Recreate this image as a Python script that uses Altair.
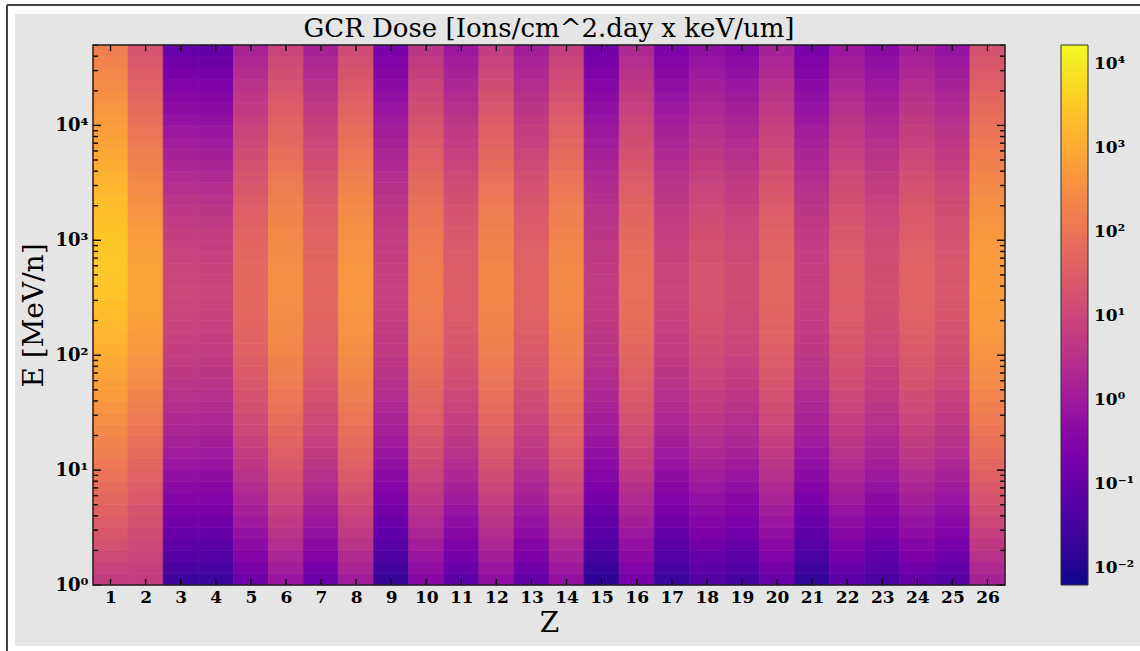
import altair as alt
import pandas as pd

# ---------------- data ----------------
Z_VALUES = list(range(1, 27))
N_ROWS = 47            # energy bins, 0.1 decade each, 1 .. 10^4.7 MeV/n

# log10 of the dose at the peak of each Z column
PEAK_LOG = [3.49, 2.90, 1.00, 0.95, 1.75, 2.50, 1.72, 2.65, 0.88, 2.17,
            1.50, 2.36, 1.62, 2.40, 0.75, 1.88, 0.95, 1.30, 1.12, 1.70,
            0.85, 1.50, 1.18, 1.62, 1.38, 2.78]

# log10 offset from the peak, one value per energy row (bottom -> top)
PROFILE_H = [-2.72, -2.56, -2.40, -2.26, -2.12, -1.99, -1.87, -1.75, -1.64, -1.53,
             -1.42, -1.31, -1.20, -1.09, -0.98, -0.88, -0.77, -0.67, -0.58, -0.49,
             -0.40, -0.32, -0.25, -0.19, -0.13, -0.08, -0.04, 0.00, -0.01, -0.03,
             -0.06, -0.10, -0.15, -0.21, -0.28, -0.36, -0.44, -0.52, -0.61, -0.70,
             -0.78, -0.87, -0.95, -1.03, -1.11, -1.19, -1.28]
PROFILE_HE = [-2.11, -2.03, -1.95, -1.86, -1.77, -1.67, -1.58, -1.48, -1.39, -1.30,
              -1.20, -1.10, -1.00, -0.90, -0.80, -0.70, -0.60, -0.50, -0.41, -0.32,
              -0.24, -0.16, -0.10, -0.05, -0.02, 0.00, -0.01, -0.03, -0.06, -0.10,
              -0.16, -0.23, -0.30, -0.38, -0.46, -0.54, -0.63, -0.72, -0.81, -0.90,
              -1.00, -1.10, -1.20, -1.30, -1.40, -1.50, -1.60]
PROFILE_LIBE = [-2.61, -2.43, -2.25, -2.09, -1.93, -1.78, -1.64, -1.50, -1.36, -1.22,
                -1.09, -0.97, -0.85, -0.75, -0.65, -0.56, -0.47, -0.38, -0.31, -0.23,
                -0.17, -0.12, -0.07, -0.04, -0.01, 0.00, -0.01, -0.03, -0.07, -0.12,
                -0.18, -0.25, -0.33, -0.42, -0.52, -0.62, -0.73, -0.84, -0.95, -1.06,
                -1.18, -1.30, -1.42, -1.55, -1.68, -1.81, -1.95]
PROFILE_HEAVY = [-2.61, -2.43, -2.25, -2.09, -1.93, -1.78, -1.64, -1.50, -1.36, -1.22,
                 -1.09, -0.97, -0.85, -0.75, -0.65, -0.56, -0.47, -0.38, -0.31, -0.23,
                 -0.17, -0.12, -0.07, -0.04, -0.01, 0.00, 0.00, -0.01, -0.04, -0.07,
                 -0.11, -0.16, -0.22, -0.29, -0.36, -0.44, -0.53, -0.62, -0.71, -0.80,
                 -0.90, -1.00, -1.10, -1.21, -1.32, -1.43, -1.55]

Y_MAJOR = [1, 10, 100, 1000, 10000]
Y_MINOR = [k * 10 ** e for e in range(5) for k in range(2, 10) if k * 10 ** e <= 50000]
CBAR_VALUES = [0.01, 0.1, 1, 10, 100, 1000, 10000]
COLOR_DOMAIN = [0.0063, 16800]
E_DOMAIN = [1, 10 ** 4.7]

# ---------------- table ----------------
rows = []
for zi, z in enumerate(Z_VALUES):
    if z == 1:
        prof = PROFILE_H
    elif z == 2:
        prof = PROFILE_HE
    elif z in (3, 4):
        prof = PROFILE_LIBE
    else:
        prof = PROFILE_HEAVY
    for i in range(N_ROWS):
        rows.append({"Z": z, "z0": z - 0.5, "z1": z + 0.5,
                     "e0": 10 ** (i / 10), "e1": 10 ** ((i + 1) / 10),
                     "dose": 10 ** (PEAK_LOG[zi] + prof[i])})
df = pd.DataFrame(rows)

W, H = 912, 540
SERIF = "DejaVu Serif"

xscale = alt.Scale(domain=[0.5, 26.5], nice=False, zero=False)
yscale = alt.Scale(type="log", domain=E_DOMAIN, nice=False)

xaxis = alt.Axis(values=Z_VALUES, format="d", ticks=False, domain=False, grid=False,
                 labelFont=SERIF, labelFontSize=17, labelFontWeight="bold", labelColor="black",
                 labelPadding=4, labelFlush=False, labelOverlap=False,
                 title="Z", titleFont=SERIF, titleFontSize=28, titleFontWeight="normal",
                 titleColor="black", titleY=24, titleBaseline="top", zindex=1)
yaxis = alt.Axis(values=Y_MAJOR, ticks=False, domain=False, grid=False,
                 labelExpr="'10' + ['⁰','¹','²','³','⁴'][round(log(datum.value)/LN10)]",
                 labelFont=SERIF, labelFontSize=18, labelFontWeight="bold", labelColor="black",
                 labelPadding=5, labelFlush=False, labelOverlap=False, labelBaseline="middle",
                 title="E [MeV/n]", titleFont=SERIF, titleFontSize=28, titleFontWeight="normal",
                 titleColor="black", titleX=-45, titleY=270, zindex=1)

one = alt.Data(values=[{"a": 1}])

background = alt.Chart(one).mark_rect(color="#e5e5e5").encode(
    x=alt.value(15 - 93), x2=alt.value(1140 - 93), y=alt.value(14 - 45), y2=alt.value(646 - 45))
edge_left = alt.Chart(one).mark_rule(color="#444", strokeWidth=2).encode(
    x=alt.value(7 - 93), y=alt.value(5 - 45), y2=alt.value(651 - 45))
edge_top = alt.Chart(one).mark_rule(color="#444", strokeWidth=2).encode(
    x=alt.value(7 - 93), x2=alt.value(1140 - 93), y=alt.value(5 - 45))

cscale = alt.Scale(type="log", scheme="plasma", domain=COLOR_DOMAIN, clamp=True)

heat = alt.Chart(df).mark_rect(
    stroke=alt.expr("scale('color', datum.dose)"), strokeWidth=0.6
).encode(
    x=alt.X("z0:Q", scale=xscale, axis=xaxis),
    x2="z1:Q",
    y=alt.Y("e0:Q", scale=yscale, axis=yaxis),
    y2="e1:Q",
    color=alt.Color("dose:Q", scale=cscale,
                    legend=alt.Legend(values=CBAR_VALUES, title=None, orient="none",
                                      legendX=968, legendY=0, direction="vertical",
                                      gradientLength=540, gradientThickness=27,
                                      gradientStrokeColor="#333", gradientStrokeWidth=1,
                                      labelExpr="'10' + ['⁻²','⁻¹','⁰','¹','²','³','⁴'][round(log(datum.value)/LN10)+2]",
                                      labelFont=SERIF, labelFontSize=17, labelFontWeight="bold",
                                      labelColor="black", labelOffset=6, labelOverlap=False,
                                      padding=0, zindex=1)),
)

major_df = pd.DataFrame({"t": Y_MAJOR})
minor_df = pd.DataFrame({"t": Y_MINOR})
zt_df = pd.DataFrame({"Z": Z_VALUES})

def yticks(data, x0, x1):
    return alt.Chart(data).mark_rule(color="black", strokeWidth=1.4).encode(
        y=alt.Y("t:Q", scale=yscale, axis=yaxis), x=alt.value(x0), x2=alt.value(x1))

def xticks(y0, y1):
    return alt.Chart(zt_df).mark_rule(color="black", strokeWidth=1.4).encode(
        x=alt.X("Z:Q", scale=xscale, axis=xaxis), y=alt.value(y0), y2=alt.value(y1))

frame = alt.Chart(one).mark_rect(fill=None, stroke="#222", strokeWidth=1.5).encode(
    x=alt.value(0), x2=alt.value(W), y=alt.value(0), y2=alt.value(H))

chart = alt.layer(
    background, edge_left, edge_top, heat,
    yticks(major_df, 0, 8), yticks(minor_df, 0, 5),
    yticks(major_df, W, W - 8), yticks(minor_df, W, W - 5),
    xticks(H, H - 6), xticks(0, 6),
    frame,
).properties(
    width=W, height=H,
    background="white",
    padding={"left": 93, "top": 45, "right": 1140 - 93 - W, "bottom": 651 - 45 - H},
    autosize=alt.AutoSizeParams(type="none"),
    title=alt.TitleParams("GCR Dose [Ions/cm^2.day x keV/um]", font=SERIF, fontSize=26,
                          fontWeight="normal", color="black", anchor="middle", offset=3,
                          dy=41, frame="group", zindex=1),
).configure_view(stroke=None)

chart.save("out.html", embed_options={"renderer": "svg", "actions": False})
